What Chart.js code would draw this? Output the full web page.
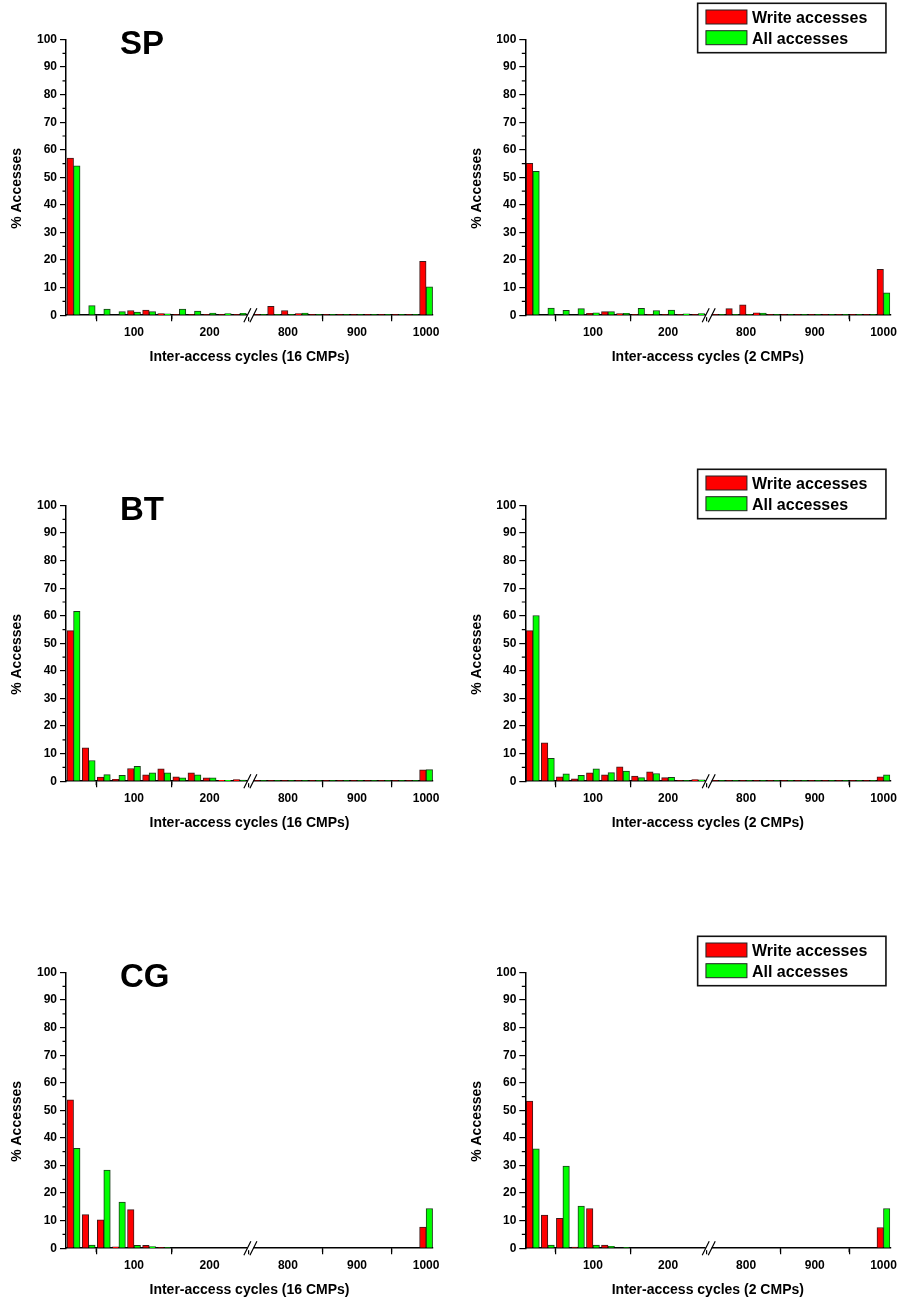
<!DOCTYPE html>
<html>
<head>
<meta charset="utf-8">
<title>Inter-access cycles</title>
<script src="https://cdn.jsdelivr.net/npm/chart.js@4.4.1/dist/chart.umd.min.js"></script>
<style>
    html, body { margin: 0; padding: 0; background: #fff; }
    body { width: 901px; height: 1302px; position: relative; overflow: hidden; }
    .panel { position: absolute; height: 368px; }
    .left { left: 0; width: 450px; }
    .right { left: 450px; width: 451px; }
</style>
</head>
<body>
<div class="panel left" style="top:0"><canvas id="sp16"></canvas></div>
<div class="panel right" style="top:0"><canvas id="sp2"></canvas></div>
<div class="panel left" style="top:466px"><canvas id="bt16"></canvas></div>
<div class="panel right" style="top:466px"><canvas id="bt2"></canvas></div>
<div class="panel left" style="top:933px"><canvas id="cg16"></canvas></div>
<div class="panel right" style="top:933px"><canvas id="cg2"></canvas></div>

<script>
/* histogram bins (cycles), the axis is broken between 250 and 750 */
const cycleBins = [20, 40, 60, 80, 100, 120, 140, 160, 180, 200, 220, 240,
                   760, 780, 800, 820, 840, 860, 880, 900, 920, 940, 960, 980, 1000];
const tickCycles = [100, 200, 800, 900, 1000];
const minorCycles = [50, 150, 850, 950];
const minorPercent = [5, 15, 25, 35, 45, 55, 65, 75, 85, 95];

/* % of accesses per bin */
const spWrite16 = [57.0, 0, 0, 0, 1.7, 1.9, 0.6, 0.2, 0.1, 0.1, 0.1, 0.3,
                   0.1, 3.2, 1.7, 0.6, 0.2, 0.1, 0.1, 0.1, 0.1, 0.1, 0.1, 0.1, 19.5];
const spAll16 = [54.2, 3.5, 2.2, 1.3, 1.1, 1.3, 0.5, 2.2, 1.5, 0.8, 0.6, 0.7,
                 0.3, 0.3, 0.3, 0.8, 0.1, 0.1, 0.1, 0.1, 0.1, 0.2, 0.2, 0.1, 10.3];
const spWrite2 = [55.1, 0, 0, 0, 0.7, 1.3, 0.6, 0.2, 0.1, 0.1, 0.1, 0.3,
                  0.1, 2.4, 3.8, 0.9, 0.2, 0.1, 0.1, 0.1, 0.1, 0.1, 0.1, 0.1, 16.6];
const spAll2 = [52.2, 2.6, 1.8, 2.4, 0.9, 1.3, 0.7, 2.5, 1.7, 1.9, 0.5, 0.6,
                0.2, 0.2, 0.2, 0.8, 0.1, 0.1, 0.1, 0.1, 0.1, 0.2, 0.2, 0.1, 8.1];

const btWrite16 = [54.6, 12.1, 1.5, 0.7, 4.6, 2.3, 4.5, 1.6, 3.0, 1.2, 0.35, 0.6,
                   0.2, 0.1, 0.1, 0.2, 0.1, 0.1, 0.1, 0.1, 0.1, 0.1, 0.1, 0.1, 4.1];
const btAll16 = [61.6, 7.5, 2.4, 2.1, 5.4, 3.0, 3.0, 1.2, 2.3, 1.2, 0.35, 0.4,
                 0.1, 0.1, 0.1, 0.1, 0.1, 0.1, 0.1, 0.1, 0.1, 0.1, 0.1, 0.1, 4.2];
const btWrite2 = [54.6, 13.9, 1.6, 0.85, 3.0, 2.3, 5.2, 1.9, 3.4, 1.3, 0.3, 0.6,
                  0.1, 0.1, 0.1, 0.1, 0.1, 0.1, 0.1, 0.1, 0.1, 0.1, 0.1, 0.1, 1.6];
const btAll2 = [60.1, 8.3, 2.7, 2.1, 4.5, 3.1, 3.7, 1.3, 2.8, 1.4, 0.3, 0.5,
                0.1, 0.1, 0.1, 0.1, 0.1, 0.1, 0.1, 0.1, 0.1, 0.1, 0.1, 0.1, 2.3];

const cgWrite16 = [53.8, 12.2, 10.3, 0.5, 14.0, 1.0, 0.1, 0, 0, 0, 0, 0,
                   0, 0, 0, 0, 0, 0, 0, 0, 0, 0, 0, 0, 7.7];
const cgAll16 = [36.2, 1.1, 28.3, 16.7, 1.0, 0.6, 0.1, 0, 0, 0, 0, 0,
                 0, 0, 0, 0, 0, 0, 0, 0, 0, 0, 0, 0, 14.4];
const cgWrite2 = [53.4, 12.0, 10.8, 0.4, 14.4, 1.1, 0, 0, 0, 0, 0, 0,
                  0, 0, 0, 0, 0, 0, 0, 0, 0, 0, 0, 0, 7.5];
const cgAll2 = [36.0, 1.1, 29.8, 15.3, 1.1, 0.7, 0.2, 0, 0, 0, 0, 0,
                0, 0, 0, 0, 0, 0, 0, 0, 0, 0, 0, 0, 14.4];

const panels = [
    { id: "sp16", name: "SP", cmps: 16, write: spWrite16, all: spAll16 },
    { id: "sp2",  name: "",   cmps: 2,  write: spWrite2,  all: spAll2 },
    { id: "bt16", name: "BT", cmps: 16, write: btWrite16, all: btAll16 },
    { id: "bt2",  name: "",   cmps: 2,  write: btWrite2,  all: btAll2 },
    { id: "cg16", name: "CG", cmps: 16, write: cgWrite16, all: cgAll16 },
    { id: "cg2",  name: "",   cmps: 2,  write: cgWrite2,  all: cgAll2 }
];

/* broken axis: 250..750 is cut out and the upper part is a bit compressed */
const breakFrom = 250;
const breakTo = 750;
const breakGap = 8;
const upperScale = 0.914;

function axisPos(v) {
    if (v <= breakFrom) {
        return v;
    }
    return breakFrom + breakGap + (v - breakTo) * upperScale;
}

const FONT = "'Liberation Sans', Arial, sans-serif";
Chart.defaults.font.family = FONT;
Chart.defaults.color = "#000";

/* minor ticks, axis break marks, panel name, y title and boxed legend */
const figureExtras = {
    id: "figureExtras",
    afterDraw(chart, args, opts) {
        let ctx = chart.ctx;
        let area = chart.chartArea;
        let xs = chart.scales.x;
        let ys = chart.scales.y;
        ctx.save();

        ctx.strokeStyle = "#000";
        ctx.lineWidth = 1.2;
        ctx.beginPath();
        minorPercent.forEach(function (v) {
            let py = ys.getPixelForValue(v);
            ctx.moveTo(area.left - 3.5, py);
            ctx.lineTo(area.left, py);
        });
        minorCycles.forEach(function (v) {
            let px = xs.getPixelForValue(axisPos(v));
            ctx.moveTo(px, area.bottom);
            ctx.lineTo(px, area.bottom + 4);
        });
        ctx.stroke();

        // the // break on the x axis
        let b1 = xs.getPixelForValue(breakFrom);
        let b2 = xs.getPixelForValue(breakFrom + breakGap);
        ctx.fillStyle = "#fff";
        ctx.fillRect(b1, area.bottom - 2, b2 - b1, 4);
        ctx.beginPath();
        [b1, b2].forEach(function (bx) {
            ctx.moveTo(bx - 3.5, area.bottom + 7);
            ctx.lineTo(bx + 3.5, area.bottom - 7);
        });
        ctx.stroke();

        // rotated y title, sits a little below the middle
        ctx.fillStyle = "#000";
        ctx.font = "bold 14px " + FONT;
        ctx.textAlign = "center";
        ctx.textBaseline = "middle";
        ctx.save();
        ctx.translate(area.left - 48.5, (area.top + area.bottom) / 2 + 11);
        ctx.rotate(-Math.PI / 2);
        ctx.fillText(opts.yTitle, 0, 0);
        ctx.restore();

        if (opts.name) {
            ctx.font = "bold 33px " + FONT;
            ctx.textAlign = "left";
            ctx.textBaseline = "alphabetic";
            ctx.fillText(opts.name, area.left + 54, area.top + 14);
        }

        if (opts.legend) {
            let bx = area.right - 192.7;
            let by = area.top - 36.2;
            ctx.fillStyle = "#fff";
            ctx.fillRect(bx, by, 188.3, 49.4);
            ctx.strokeStyle = "#111";
            ctx.lineWidth = 1.6;
            ctx.strokeRect(bx, by, 188.3, 49.4);
            ctx.font = "bold 16px " + FONT;
            ctx.textAlign = "left";
            ctx.textBaseline = "alphabetic";
            ctx.lineWidth = 1;
            chart.data.datasets.forEach(function (ds, i) {
                let sy = by + 6.7 + i * 20.7;
                ctx.fillStyle = ds.backgroundColor;
                ctx.fillRect(bx + 8.3, sy, 41, 14);
                ctx.strokeStyle = "#222";
                ctx.strokeRect(bx + 8.3, sy, 41, 14);
                ctx.fillStyle = "#000";
                ctx.fillText(ds.label, bx + 54.3, sy + 13.3);
            });
        }
        ctx.restore();
    }
};

function toPoints(values) {
    return values.map(function (v, i) {
        return { x: axisPos(cycleBins[i]), y: v };
    });
}

function makeChart(panel, isRight) {
    "use strict";
    let ctx = document.getElementById(panel.id);
    let chart = new Chart(ctx, {
        type: "bar",
        data: {
            datasets: [
                { label: "Write accesses", data: toPoints(panel.write),
                  backgroundColor: "#ff0000", borderColor: "rgba(40,0,0,0.9)", borderWidth: 1 },
                { label: "All accesses", data: toPoints(panel.all),
                  backgroundColor: "#00ff00", borderColor: "rgba(0,40,0,0.9)", borderWidth: 1 }
            ]
        },
        options: {
            responsive: true,
            maintainAspectRatio: false,
            animation: false,
            barThickness: 6.5,
            layout: {
                padding: isRight ? { left: 9.3, right: 9.3, top: 39.5, bottom: 0 }
                                 : { left: 0, right: 17, top: 39.5, bottom: 0 }
            },
            plugins: {
                legend: { display: false },
                tooltip: { enabled: false },
                figureExtras: { name: panel.name, legend: isRight, yTitle: "% Accesses" }
            },
            scales: {
                x: {
                    type: "linear",
                    min: 10,
                    max: axisPos(1010),
                    offset: false,
                    afterBuildTicks: function (scale) {
                        scale.ticks = tickCycles.map(function (v) { return { value: axisPos(v) }; });
                    },
                    afterFit: function (scale) { scale.height = 52.8; },
                    ticks: {
                        autoSkip: false,
                        maxRotation: 0,
                        padding: 4,
                        font: { size: 12, weight: "bold" },
                        callback: function (val, idx) { return tickCycles[idx]; }
                    },
                    grid: { drawOnChartArea: false, tickLength: 6, color: "#000", lineWidth: 1.2 },
                    border: { color: "#000", width: 1.5 },
                    title: {
                        display: true,
                        text: "Inter-access cycles (" + panel.cmps + " CMPs)",
                        font: { size: 14, weight: "bold" },
                        padding: { top: 0, bottom: 2.4 }
                    }
                },
                y: {
                    min: 0,
                    max: 100,
                    afterFit: function (scale) { scale.width = 66; },
                    ticks: {
                        stepSize: 10,
                        padding: 3,
                        font: { size: 12, weight: "bold" }
                    },
                    grid: { drawOnChartArea: false, tickLength: 6, color: "#000", lineWidth: 1.2 },
                    border: { color: "#000", width: 1.5 }
                }
            }
        },
        plugins: [figureExtras]
    });
    return chart;
}

panels.forEach(function (p, i) {
    makeChart(p, i % 2 === 1);
});
</script>
</body>
</html>
